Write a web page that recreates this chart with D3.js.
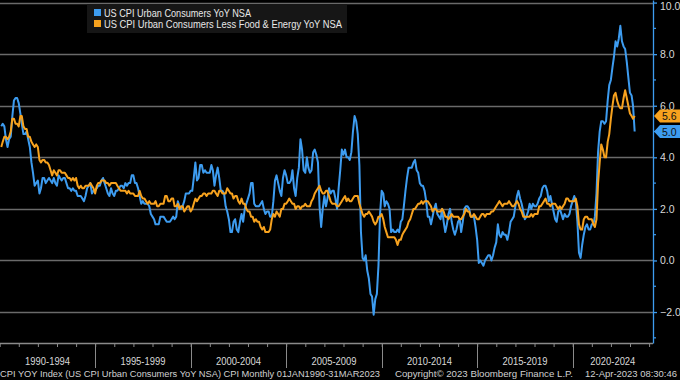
<!DOCTYPE html>
<html>
<head>
<meta charset="utf-8">
<script src="https://cdn.jsdelivr.net/npm/d3@7"></script>
<style>
  html, body { margin: 0; padding: 0; background: #000; }
  svg { display: block; }
  text { font-family: "Liberation Sans", Arial, sans-serif; }
</style>
</head>
<body>
<svg id="chart" width="680" height="380"></svg>
<script>
// ---- Data (monthly, Jan 1990 – Mar 2023) ----
const startYear = 1990;
const seriesNames = ["US CPI Urban Consumers YoY NSA", "US CPI Urban Consumers Less Food & Energy YoY NSA"];
const cpiHeadline = [
  5.2,5.3,5.2,4.7,4.4,4.7,4.8,5.6,6.2,6.3,6.3,6.1,
  5.7,5.3,4.9,4.9,5.0,4.7,4.4,3.8,3.4,2.9,3.0,3.1,
  2.6,2.8,3.2,3.2,3.0,3.1,3.2,3.1,3.0,3.2,3.0,2.9,
  3.3,3.2,3.1,3.2,3.2,3.0,2.8,2.8,2.7,2.8,2.7,2.7,
  2.5,2.5,2.5,2.4,2.3,2.5,2.8,2.9,3.0,2.6,2.7,2.7,
  2.8,2.9,2.9,3.1,3.2,3.0,2.8,2.6,2.5,2.8,2.6,2.5,
  2.7,2.7,2.8,2.9,2.9,2.8,3.0,2.9,3.0,3.0,3.3,3.3,
  3.0,3.0,2.8,2.5,2.2,2.3,2.2,2.2,2.2,2.1,1.8,1.7,
  1.6,1.4,1.4,1.4,1.7,1.7,1.7,1.6,1.5,1.5,1.5,1.6,
  1.7,1.6,1.7,2.3,2.1,2.0,2.1,2.3,2.6,2.6,2.6,2.7,
  2.7,3.2,3.8,3.1,3.2,3.7,3.7,3.4,3.5,3.4,3.4,3.4,
  3.7,3.5,2.9,3.3,3.6,3.2,2.7,2.7,2.6,2.1,1.9,1.6,
  1.1,1.1,1.5,1.6,1.2,1.1,1.5,1.8,1.5,2.0,2.2,2.4,
  2.6,3.0,3.0,2.2,2.1,2.1,2.1,2.2,2.3,2.0,1.8,1.9,
  1.9,1.7,1.7,2.3,3.1,3.3,3.0,2.7,2.5,3.2,3.5,3.3,
  3.0,3.0,3.1,3.5,2.8,2.5,3.2,3.6,4.7,4.3,3.5,3.4,
  4.0,3.6,3.4,3.5,4.2,4.3,4.1,3.8,2.1,1.3,2.0,2.5,
  2.1,2.4,2.8,2.6,2.7,2.7,2.4,2.0,2.8,3.5,4.3,4.1,
  4.3,4.0,4.0,3.9,4.2,5.0,5.6,5.4,4.9,3.7,1.1,0.1,
  0.0,0.2,-0.4,-0.7,-1.3,-1.4,-2.1,-1.5,-1.3,-0.2,1.8,2.7,
  2.6,2.1,2.3,2.2,2.0,1.1,1.2,1.1,1.1,1.2,1.1,1.5,
  1.6,2.1,2.7,3.2,3.6,3.6,3.6,3.8,3.9,3.5,3.4,3.0,
  2.9,2.9,2.7,2.3,1.7,1.7,1.4,1.7,2.0,2.2,1.8,1.7,
  1.6,2.0,1.5,1.1,1.4,1.8,2.0,1.5,1.2,1.0,1.2,1.5,
  1.6,1.1,1.5,2.0,2.1,2.1,2.0,1.7,1.7,1.7,1.3,0.8,
  -0.1,0.0,-0.1,-0.2,0.0,0.1,0.2,0.2,0.0,0.2,0.5,0.7,
  1.4,1.0,0.9,1.1,1.0,1.0,0.8,1.1,1.5,1.6,1.7,2.1,
  2.5,2.7,2.4,2.2,1.9,1.6,1.7,1.9,2.2,2.0,2.2,2.1,
  2.1,2.2,2.4,2.5,2.8,2.9,2.9,2.7,2.3,2.5,2.2,1.9,
  1.6,1.5,1.9,2.0,1.8,1.6,1.8,1.7,1.7,1.8,2.1,2.3,
  2.5,2.3,1.5,0.3,0.1,0.6,1.0,1.3,1.4,1.2,1.2,1.4,
  1.4,1.7,2.6,4.2,5.0,5.4,5.4,5.3,5.4,6.2,6.8,7.0,
  7.5,7.9,8.5,8.3,8.6,9.1,8.5,8.3,8.2,7.7,7.1,6.5,
  6.4,6.0,5.0
];
const cpiCore = [
  4.4,4.6,4.8,4.8,4.7,4.8,5.0,5.5,5.5,5.3,5.3,5.2,
  5.6,5.6,5.2,5.1,5.1,4.8,4.8,4.6,4.5,4.4,4.5,4.4,
  3.9,3.8,3.9,3.9,3.8,3.8,3.7,3.5,3.3,3.5,3.4,3.3,
  3.5,3.5,3.4,3.4,3.4,3.3,3.2,3.2,3.1,3.2,3.1,3.2,
  2.9,2.8,2.9,2.8,2.8,2.9,2.9,2.9,3.0,2.9,2.8,2.6,
  2.9,3.0,3.0,3.1,3.1,3.1,3.0,3.0,2.9,3.0,3.0,3.0,
  3.0,2.9,2.8,2.7,2.7,2.7,2.7,2.6,2.7,2.6,2.6,2.6,
  2.5,2.5,2.5,2.7,2.5,2.4,2.4,2.3,2.2,2.3,2.2,2.2,
  2.2,2.3,2.1,2.1,2.2,2.2,2.2,2.5,2.5,2.3,2.3,2.4,
  2.4,2.1,2.1,2.2,2.0,2.1,2.1,1.9,2.0,2.1,2.1,1.9,
  2.0,2.2,2.4,2.3,2.4,2.5,2.5,2.6,2.6,2.5,2.6,2.6,
  2.6,2.7,2.7,2.6,2.5,2.7,2.7,2.6,2.6,2.6,2.8,2.7,
  2.6,2.6,2.4,2.5,2.5,2.3,2.2,2.4,2.2,2.2,2.0,1.9,
  1.9,1.7,1.7,1.5,1.6,1.5,1.5,1.3,1.2,1.3,1.1,1.1,
  1.1,1.2,1.6,1.8,1.7,1.9,1.8,1.7,2.0,2.0,2.2,2.2,
  2.3,2.4,2.3,2.2,2.2,2.0,2.1,2.1,2.0,2.1,2.1,2.2,
  2.1,2.1,2.1,2.3,2.4,2.6,2.7,2.8,2.9,2.7,2.6,2.6,
  2.7,2.7,2.5,2.3,2.2,2.2,2.2,2.1,2.1,2.2,2.3,2.4,
  2.5,2.3,2.4,2.3,2.3,2.4,2.5,2.5,2.5,2.2,2.0,1.8,
  1.7,1.8,1.8,1.9,1.8,1.7,1.5,1.4,1.5,1.7,1.7,1.8,
  1.6,1.3,1.1,0.9,0.9,0.9,0.9,0.9,0.8,0.6,0.8,0.8,
  1.0,1.1,1.2,1.3,1.5,1.6,1.8,2.0,2.0,2.1,2.2,2.2,
  2.3,2.2,2.3,2.3,2.3,2.2,2.1,1.9,2.0,2.0,1.9,1.9,
  1.9,2.0,1.9,1.7,1.7,1.6,1.7,1.8,1.7,1.7,1.7,1.7,
  1.6,1.6,1.7,1.8,2.0,1.9,1.9,1.7,1.7,1.8,1.7,1.6,
  1.6,1.7,1.8,1.8,1.7,1.8,1.8,1.8,1.9,1.9,2.0,2.1,
  2.2,2.3,2.2,2.1,2.2,2.2,2.2,2.3,2.2,2.1,2.1,2.2,
  2.3,2.2,2.0,1.9,1.7,1.7,1.7,1.7,1.7,1.8,1.7,1.8,
  1.8,1.8,2.1,2.1,2.2,2.3,2.4,2.2,2.2,2.1,2.2,2.2,
  2.2,2.1,2.0,2.1,2.0,2.1,2.2,2.4,2.4,2.3,2.3,2.3,
  2.3,2.4,2.1,1.4,1.2,1.2,1.6,1.7,1.7,1.6,1.6,1.6,
  1.4,1.3,1.6,3.0,3.8,4.5,4.3,4.0,4.0,4.6,4.9,5.5,
  6.0,6.4,6.5,6.2,6.0,5.9,5.9,6.3,6.6,6.3,6.0,5.7,
  5.6,5.5,5.6
];
const yTickValues = [-2, 0, 2, 4, 6, 8, 10];
const periodLabels = ["1990-1994","1995-1999","2000-2004","2005-2009","2010-2014","2015-2019","2020-2024"];
const footerTexts = [
  "CPI YOY Index (US CPI Urban Consumers YoY NSA) CPI  Monthly 01JAN1990-31MAR2023",
  "Copyright\u00A9 2023 Bloomberg Finance L.P.",
  "12-Apr-2023 08:30:46"
];

// ---- Styles / layout ----
const BLUE = "#3d9cf0", ORANGE = "#f7a21e";
const W = 680, H = 380;
const plot = { left: 0, right: 653, top: 0, bottom: 343 };

const svg = d3.select("#chart");
svg.append("rect").attr("width", W).attr("height", H).attr("fill", "#000");

// monthly observations dated at month end
const dateOf = i => new Date(startYear, i + 1, 0);
const x = d3.scaleTime()
  .domain([new Date(1990, 0, 1), new Date(2024, 0, 1)])
  .range([-0.3, 649.1]);
const y = d3.scaleLinear().domain([-3.2, 10.1]).range([plot.bottom, plot.top]);

// gridlines
svg.append("g").selectAll("line").data(yTickValues).join("line")
  .attr("x1", plot.left).attr("x2", plot.right)
  .attr("y1", d => Math.round(y(d)) + 0.5).attr("y2", d => Math.round(y(d)) + 0.5)
  .attr("stroke", "#6a6a6a").attr("stroke-width", 1.3);

// bottom axis line + yearly ticks
const years = d3.range(1990, 2025);
const xAxis = d3.axisBottom(x)
  .tickValues(years.map(yy => new Date(yy, 0, 1)))
  .tickFormat("").tickSize(4).tickSizeOuter(0);
const gx = svg.append("g").attr("transform", `translate(0,${plot.bottom})`).call(xAxis);
gx.select(".domain").remove();
gx.selectAll(".tick line").attr("stroke", "#8a8a8a");
svg.append("line").attr("x1", plot.left).attr("x2", plot.right)
  .attr("y1", plot.bottom + 0.5).attr("y2", plot.bottom + 0.5)
  .attr("stroke", "#8a8a8a").attr("stroke-width", 1.3);

// 5-year separators and labels
const sepYears = [1995, 2000, 2005, 2010, 2015, 2020];
svg.append("g").selectAll("line").data(sepYears).join("line")
  .attr("x1", d => Math.round(x(new Date(d, 0, 1))) + 0.5)
  .attr("x2", d => Math.round(x(new Date(d, 0, 1))) + 0.5)
  .attr("y1", plot.bottom).attr("y2", 368)
  .attr("stroke", "#8a8a8a").attr("stroke-width", 1);

svg.append("g").selectAll("text").data(periodLabels).join("text")
  .attr("x", (d, i) => {
    const a = Math.max(x(new Date(1990 + 5 * i, 0, 1)), plot.left);
    const b = Math.min(x(new Date(1995 + 5 * i, 0, 1)), plot.right);
    return (a + b) / 2;
  })
  .attr("y", 365)
  .attr("text-anchor", "middle")
  .attr("font-size", 10.5)
  .attr("fill", "#d8d8d8")
  .attr("textLength", 45).attr("lengthAdjust", "spacingAndGlyphs")
  .text(d => d);

// right axis
const yAxis = d3.axisRight(y).tickValues(yTickValues)
  .tickFormat(d3.format(".1f")).tickSize(4).tickSizeOuter(0);
const gy = svg.append("g").attr("transform", `translate(${plot.right},0)`).call(yAxis);
gy.select(".domain").attr("stroke", BLUE).attr("stroke-width", 1.3);
gy.selectAll(".tick line").attr("stroke", BLUE).attr("stroke-width", 1.3);
gy.selectAll(".tick text").attr("fill", "#d8d8d8").attr("font-size", 10.5)
  .attr("font-family", "Liberation Sans, Arial, sans-serif").attr("x", 7)
  .attr("dy", d => (y(d) < 6 ? (6 - y(d)) : 0) + 3.5);
// minor ticks
svg.append("g").selectAll("line").data([-3, -1, 1, 3, 5, 7, 9]).join("line")
  .attr("x1", plot.right).attr("x2", plot.right + 3)
  .attr("y1", d => y(d)).attr("y2", d => y(d))
  .attr("stroke", BLUE).attr("stroke-width", 1.2);

// lines
const line = d3.line().x((d, i) => x(dateOf(i))).y(d => y(d)).curve(d3.curveLinear);
svg.append("path").datum(cpiHeadline).attr("d", line)
  .attr("fill", "none").attr("stroke", BLUE).attr("stroke-width", 2).attr("stroke-linejoin", "round");
svg.append("path").datum(cpiCore).attr("d", line)
  .attr("fill", "none").attr("stroke", ORANGE).attr("stroke-width", 2).attr("stroke-linejoin", "round");

// last value tags
const lastTags = [
  { v: cpiCore[cpiCore.length - 1], color: ORANGE },
  { v: cpiHeadline[cpiHeadline.length - 1], color: BLUE }
];
const tagG = svg.append("g").selectAll("g").data(lastTags).join("g")
  .attr("transform", d => `translate(${plot.right + 1},${y(d.v)})`);
tagG.append("path")
  .attr("d", "M0,0 L6,-6.5 L27,-6.5 L27,6.5 L6,6.5 Z")
  .attr("fill", d => d.color);
tagG.append("text").attr("x", 8).attr("y", 4).attr("font-size", 10.5)
  .attr("fill", "#111").text(d => d3.format(".1f")(d.v));

// legend
const lg = svg.append("g").attr("transform", "translate(87,4)");
lg.append("rect").attr("width", 260).attr("height", 29).attr("fill", "#161616");
const legendWidths = [147, 238];
const items = lg.selectAll("g").data(seriesNames).join("g")
  .attr("transform", (d, i) => `translate(7,${5 + i * 11})`);
items.append("rect").attr("width", 7).attr("height", 7)
  .attr("fill", (d, i) => i === 0 ? BLUE : ORANGE);
items.append("text").attr("x", 10).attr("y", 7.5).attr("font-size", 10.5)
  .attr("fill", "#e8e8e8")
  .attr("textLength", (d, i) => legendWidths[i]).attr("lengthAdjust", "spacingAndGlyphs")
  .text(d => d);

// footer
const footerX = [0, 395, 585];
const footerW = [380, 178, 92];
svg.append("g").selectAll("text").data(footerTexts).join("text")
  .attr("x", (d, i) => footerX[i]).attr("y", 376.5)
  .attr("font-size", 9.6).attr("fill", "#d0d0d0")
  .attr("textLength", (d, i) => footerW[i]).attr("lengthAdjust", "spacingAndGlyphs")
  .text(d => d);
</script>
</body>
</html>
